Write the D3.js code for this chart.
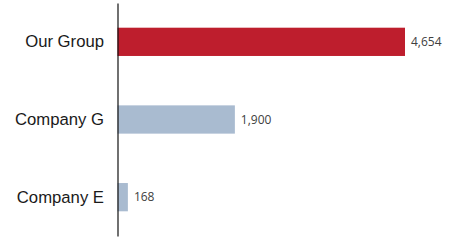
<!DOCTYPE html>
<html>
<head>
<meta charset="utf-8">
<script src="https://cdn.jsdelivr.net/npm/d3@7"></script>
<style>
  body { margin: 0; background: #fff; }
  svg { display: block; }
</style>
</head>
<body>
<svg width="471" height="241"></svg>
<script>
    'use strict';

    const categories = ['Our Group', 'Company G', 'Company E'];
    const values = [4654, 1900, 168];
    const barColors = ['#be1e2d', '#a9bbd0', '#a9bbd0'];

    const svg = d3.select('svg');

    const yScale = d3.scaleBand()
        .domain(categories)
        .range([3, 236])
        .paddingInner(0.636)
        .paddingOuter(0.318);

    const xScale = d3.scaleLinear()
        .domain([0, 4654])
        .range([117.5, 405]);

    // bars
    svg.append('g')
        .selectAll('rect')
        .data(values)
        .enter().append('rect')
        .attr('x', xScale(0))
        .attr('y', (d, i) => yScale(categories[i]))
        .attr('width', d => xScale(d) - xScale(0))
        .attr('height', yScale.bandwidth())
        .attr('fill', (d, i) => barColors[i]);

    // value labels
    svg.append('g')
        .selectAll('text')
        .data(values)
        .enter().append('text')
        .attr('x', d => xScale(d) + 6)
        .attr('y', (d, i) => yScale(categories[i]) + yScale.bandwidth() / 2)
        .attr('dy', '0.36em')
        .attr('font-family', '"Open Sans", sans-serif')
        .attr('font-size', 12)
        .attr('fill', '#404040')
        .text(d => d3.format(',')(d));

    // category axis
    const axis = svg.append('g')
        .attr('transform', `translate(${xScale(0)},0)`)
        .call(d3.axisLeft(yScale).tickSize(0).tickSizeOuter(0).tickPadding(13.5));

    axis.select('.domain')
        .attr('stroke', '#111')
        .attr('stroke-width', 1.2);

    axis.selectAll('text')
        .attr('font-family', '"Liberation Sans", Arial, sans-serif')
        .attr('font-size', 16.7)
        .attr('fill', '#1a1a1a');
</script>
</body>
</html>
